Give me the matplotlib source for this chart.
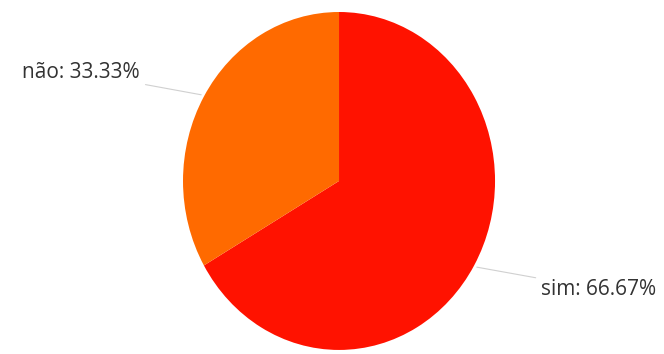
import numpy as np
import matplotlib.pyplot as plt

labels = ["sim", "não"]
values = [2, 1]
colors = ["#ff1200", "#ff6a00"]

plt.rcParams['font.family'] = ['Open Sans', 'DejaVu Sans']

fig = plt.figure(figsize=(6.64, 3.54), dpi=100)
ax = fig.add_axes([0, 0, 1, 1])

wedges, _ = ax.pie(values, colors=colors, startangle=90, counterclock=False,
                   wedgeprops=dict(linewidth=0))

# pie in the reference is a little taller than wide
ax.set_aspect('auto')
ax.set_xlim(-2.173, 2.083)
ax.set_ylim(-1.024, 1.071)
ax.axis('off')

total = sum(values)
for w, name, v in zip(wedges, labels, values):
    ang = np.deg2rad((w.theta1 + w.theta2) / 2)
    x, y = np.cos(ang), np.sin(ang)
    ha = 'left' if x > 0 else 'right'
    pad = 0.04 if x > 0 else -0.02
    ax.annotate(f"{name}: {v / total * 100:.2f}%",
                xy=(1.02 * x, 1.02 * y),
                xytext=(1.45 * x + pad, 1.28 * y),
                ha=ha, va='center', fontsize=15, fontweight='medium',
                color='#333333',
                arrowprops=dict(arrowstyle='-', color='#d0d0d0', lw=0.8,
                                shrinkA=2, shrinkB=0))

fig.savefig("out.png", dpi=100)
